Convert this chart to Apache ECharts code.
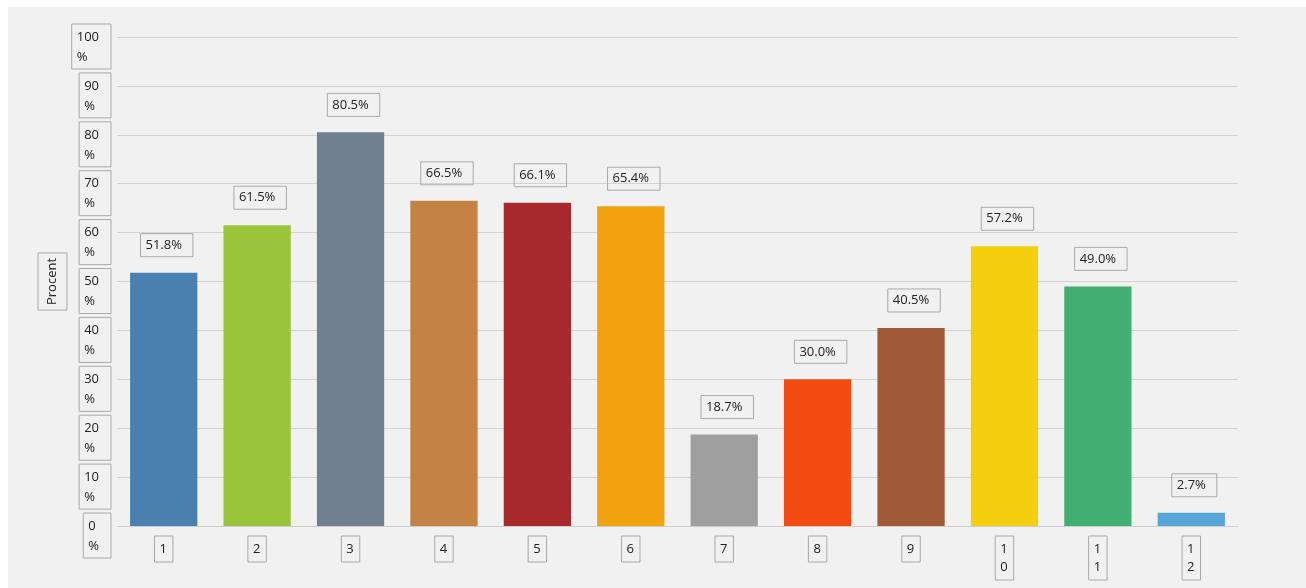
<!DOCTYPE html>
<html>
<head>
<meta charset="utf-8">
<script src="https://cdn.jsdelivr.net/npm/echarts@6/dist/echarts.min.js"></script>
<style>
  html, body { margin: 0; padding: 0; background: #ffffff; }
  #chart { position: absolute; left: 8px; top: 7px; width: 1298px; height: 581px; background: #f1f1f1; }
</style>
</head>
<body>
<div id="chart"></div>
<script>
const categories = ['1', '2', '3', '4', '5', '6', '7', '8', '9', '10', '11', '12'];
const values = [51.8, 61.5, 80.5, 66.5, 66.1, 65.4, 18.7, 30.0, 40.5, 57.2, 49.0, 2.7];
const barColors = ['#4a80b0', '#9ac43a', '#708090', '#c48245', '#a8292b', '#f2a10f',
                   '#9f9f9f', '#f34b12', '#a05a37', '#f3cf10', '#42ae72', '#58a5d8'];
const yMin = 0, yMax = 100, yStep = 10;
const axisName = 'Procent';

const FONT = 'Open Sans';
const TXT = '#222222';
const BOX = '#a9a9a9';

const chart = echarts.init(document.getElementById('chart'), null, { renderer: 'canvas' });
chart.setOption({
  backgroundColor: 'transparent',
  animation: false,
  grid: [
    { left: 109, right: 68, top: 30, bottom: 62 },
    { left: 109, right: 68, top: 39.5, bottom: 52.5 }
  ],
  xAxis: [
    {
      type: 'category', data: categories, gridIndex: 0,
      axisLine: { show: true, lineStyle: { color: '#cfcfcf', width: 1 } },
      axisTick: { show: false },
      axisLabel: {
        margin: 10,
        formatter: v => v.split('').join('\n'),
        fontFamily: FONT, fontSize: 13, color: TXT, lineHeight: 18,
        verticalAlign: 'top',
        borderColor: BOX, borderWidth: 1, padding: [4, 6, 4, 5]
      }
    },
    { type: 'category', data: categories, gridIndex: 1, show: false }
  ],
  yAxis: [
    {
      type: 'value', gridIndex: 0, min: yMin, max: yMax, interval: yStep,
      name: axisName, nameLocation: 'middle', nameRotate: 90, nameGap: 50,
      nameTextStyle: {
        fontFamily: FONT, fontSize: 13, color: TXT,
        borderColor: BOX, borderWidth: 1, padding: [8, 5, 8, 5]
      },
      axisLine: { show: false }, axisTick: { show: false },
      axisLabel: { show: false },
      splitLine: { show: true, lineStyle: { color: '#d3d3d3', width: 1 } }
    },
    {
      type: 'value', gridIndex: 1, min: yMin, max: yMax, interval: yStep,
      axisLine: { show: false }, axisTick: { show: false },
      splitLine: { show: false },
      axisLabel: {
        margin: 6,
        formatter: v => '{t|' + v + '}\n{t|%}',
        align: 'right',
        fontFamily: FONT, fontSize: 13, color: TXT, lineHeight: 20,
        borderColor: BOX, borderWidth: 1, padding: [3, 12, 2, 5],
        rich: {
          t: { align: 'left', fontFamily: FONT, fontSize: 13, color: TXT, lineHeight: 20 }
        }
      }
    }
  ],
  series: [{
    type: 'bar',
    xAxisIndex: 0, yAxisIndex: 0,
    data: values.map((v, i) => ({ value: v, itemStyle: { color: barColors[i] } })),
    barCategoryGap: '28%',
    label: {
      show: true, position: 'top', distance: 16,
      formatter: p => p.value.toFixed(1) + '%',
      fontFamily: FONT, fontSize: 13, color: TXT,
      borderColor: BOX, borderWidth: 1, padding: [5, 11, 5, 5], offset: [3, 0]
    }
  }]
});
</script>
</body>
</html>
